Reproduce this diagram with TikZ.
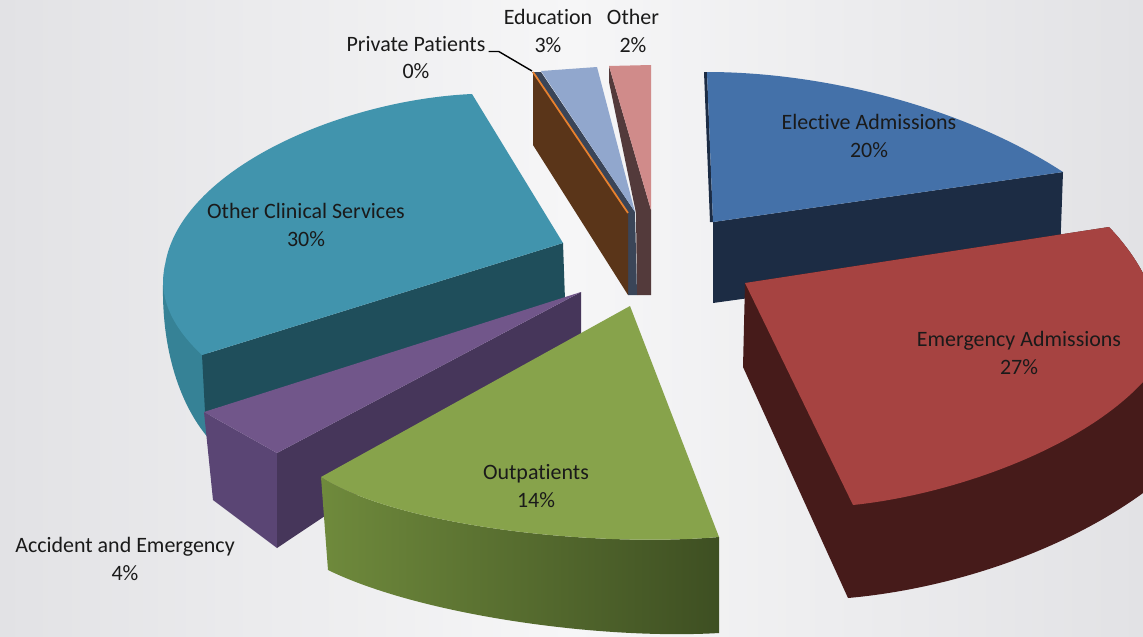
\documentclass[tikz,border=0pt]{standalone}
\usepackage{fontspec}
\setmainfont[Ligatures=NoCommon]{Carlito}
\usepackage{xcolor}
\usepackage{tikz}

\definecolor{bgside}{HTML}{E2E2E5}
\definecolor{bgmid}{HTML}{F6F6F7}
\definecolor{labeltext}{HTML}{1A1A1A}
\definecolor{elecTop}{HTML}{4471A9}
\definecolor{elecSide}{HTML}{1C2C44}
\definecolor{emerTop}{HTML}{A64341}
\definecolor{emerSide}{HTML}{461B1A}
\definecolor{outTop}{HTML}{87A34B}
\definecolor{outSideL}{HTML}{6F8A3C}
\definecolor{outSideR}{HTML}{3E4F22}
\definecolor{aeTop}{HTML}{71568A}
\definecolor{aeFront}{HTML}{46365A}
\definecolor{aeSide}{HTML}{5A4574}
\definecolor{ocsTop}{HTML}{4194AD}
\definecolor{ocsFront}{HTML}{1F4E5B}
\definecolor{ocsSide}{HTML}{368296}
\definecolor{ppSide}{HTML}{5A3519}
\definecolor{ppEdge}{HTML}{E8812E}
\definecolor{eduTop}{HTML}{91A7CD}
\definecolor{eduSide}{HTML}{3A4558}
\definecolor{othTop}{HTML}{D08B8A}
\definecolor{othSide}{HTML}{533A3B}

\begin{document}
\begin{tikzpicture}[x=0.02cm, y=-0.02cm,
	lbl/.style={align=center, inner sep=0pt, text=labeltext, font=\fontsize{12.5}{15.5}\selectfont},
	leader/.style={draw=black, line width=0.8pt}]
	% Background
	\useasboundingbox (0,0) rectangle (1143,636);
	\shade[left color=bgside, right color=bgside, middle color=bgmid] (0,0) rectangle (1143,636);
	\clip (0,0) rectangle (1143,636);
	
	% Other 2%
	\fill[othSide] (609,66) -- (609,82) -- (636,213) -- (637,295) -- (651,295) -- (651,210) -- cycle;
	\fill[othTop] (609,66) -- (651,65) -- (651,210) -- cycle;
	
	% Education 3%
	\fill[eduSide] (541,72) -- (635,212) -- (637,295) -- (628,295) -- (628,213) -- (532,72) -- cycle;
	\fill[eduTop] (541,71) -- (597,67) -- (635,212) -- cycle;
	
	% Private Patients 0%
	\fill[ppSide] (533,72) -- (628,213) -- (628,295) -- (533,145) -- cycle;
	\draw[ppEdge, line width=1pt] (533,72) -- (628,213);
	
	% Elective Admissions
	\fill[elecSide] (713,222) -- (1063,172) -- (1060,255) -- (713,303) -- cycle;
	\fill[elecSide] (704,72) -- (707,72) -- (713,222) -- (710,222) -- cycle;
	\fill[elecTop] (713,222) -- (707,72) .. controls (820,72) and (960,105) .. (1063,172) -- cycle;
	
	% Other Clinical Services
	\fill[ocsSide] (165,265) -- (163,285) .. controls (162,340) and (175,400) .. (210,440) -- (210,355) -- cycle;
	\fill[ocsFront] (202,355) -- (563,243) -- (565,300) -- (205,412) -- cycle;
	\fill[ocsTop] (563,243) -- (472,94) .. controls (340,100) and (180,170) .. (165,265)
		.. controls (158,295) and (170,325) .. (202,355) -- cycle;
	
	% Emergency Admissions
	\fill[emerSide] (743,367) -- (848,598) .. controls (960,588) and (1080,545) .. (1160,480)
		-- (1160,382) -- (1143,382) .. controls (1175,345) and (1160,280) .. (1109,227) -- (745,283) -- cycle;
	\fill[emerTop] (745,283) -- (1109,227) .. controls (1160,280) and (1175,345) .. (1143,382)
		.. controls (1080,450) and (950,495) .. (853,505) -- cycle;
	
	% Accident and Emergency
	\fill[aeSide] (204,412) -- (277,453) -- (277,548) -- (213,500) -- cycle;
	\fill[aeFront] (277,453) -- (581,292) -- (581,345) -- (277,548) -- cycle;
	\fill[aeTop] (204,412) -- (581,292) -- (277,453) -- cycle;
	
	% Outpatients
	\shade[left color=outSideL, right color=outSideR] (321,477) .. controls (395,525) and (590,548) .. (719,537)
		-- (719,633) .. controls (600,640) and (420,615) .. (328,570) -- cycle;
	\fill[outTop] (630,306) -- (719,537) .. controls (590,548) and (395,525) .. (321,477) -- cycle;
	
	% Labels
	\node[lbl] (lblElective) at (869,136) {Elective Admissions\\20\%};
	\node[lbl] (lblEmergency) at (1019,353) {Emergency Admissions\\27\%};
	\node[lbl] (lblOutpat) at (536,486) {Outpatients\\14\%};
	\node[lbl] (lblOCS) at (306,225) {Other Clinical Services\\30\%};
	\node[lbl] (lblAE) at (125,559) {Accident and Emergency\\4\%};
	\node[lbl] (lblEdu) at (548,31) {Education\\3\%};
	\node[lbl] (lblOther) at (633,31) {Other\\2\%};
	\node[lbl] (lblPrivate) at (416,44) {Private Patients};
	\node[lbl] (pctPrivate) at (416,71) {0\%};
	
	% Leader for the 0% slice
	\coordinate (ppTip) at (532,71);
	\draw[leader] (lblPrivate.base east) ++(3,0) -- ++(10,0) -- (ppTip);
\end{tikzpicture}
\end{document}
